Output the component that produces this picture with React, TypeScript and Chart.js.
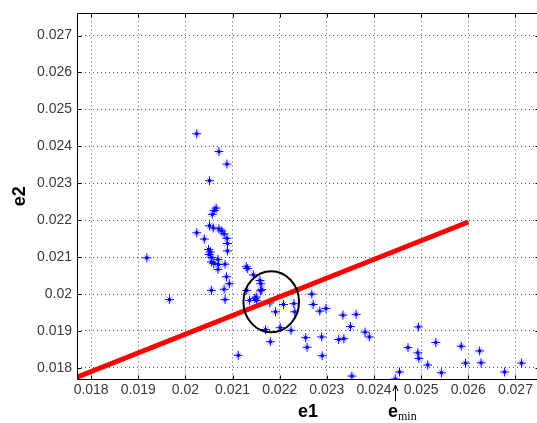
import React, { useEffect, useRef } from "react";
import { Chart, registerables } from "chart.js";

Chart.register(...registerables);

// ---- data ----
const E1_VALUES = [
  0.02024, 0.02071, 0.02088, 0.02051, 0.02065, 0.02061, 0.02057, 0.02051, 0.02059, 0.02071,
  0.02077, 0.02082, 0.02088, 0.02089, 0.02089, 0.02024, 0.0204, 0.02049, 0.02053, 0.0205,
  0.02056, 0.02055, 0.02069, 0.0207, 0.02069, 0.0206, 0.02084, 0.02087, 0.01918, 0.01966,
  0.02055, 0.02082, 0.02084, 0.02093, 0.02112, 0.02129, 0.02132, 0.0213, 0.02136, 0.02144,
  0.02151, 0.02158, 0.02162, 0.0215, 0.0216, 0.02159, 0.02147, 0.02179, 0.02191, 0.02208,
  0.0223, 0.02232, 0.0217, 0.02201, 0.02224, 0.0218, 0.02268, 0.02271, 0.02285, 0.02298,
  0.02334, 0.02362, 0.0235, 0.02381, 0.0239, 0.02255, 0.02258, 0.02289, 0.0229, 0.02325,
  0.02336, 0.02353, 0.02445, 0.02454, 0.02472, 0.02494, 0.02493, 0.02495, 0.02514, 0.02531,
  0.02543, 0.02585, 0.02594, 0.02624, 0.02627, 0.02677, 0.02713,
];
const E2_VALUES = [
  0.02434, 0.02386, 0.02352, 0.02307, 0.02233, 0.02226, 0.02216, 0.02185, 0.02179, 0.02177,
  0.02171, 0.02163, 0.02151, 0.02137, 0.02117, 0.02166, 0.02149, 0.02121, 0.02114, 0.02107,
  0.02099, 0.02087, 0.02094, 0.0208, 0.02067, 0.02083, 0.02081, 0.02047, 0.02098, 0.01985,
  0.0201, 0.02013, 0.01985, 0.02028, 0.01834, 0.02074, 0.02069, 0.0201, 0.01983, 0.02052,
  0.01983, 0.02037, 0.02012, 0.01992, 0.02028, 0.02009, 0.01988, 0.01976, 0.01952, 0.01972,
  0.01974, 0.01952, 0.01904, 0.01909, 0.01902, 0.01871, 0.02, 0.01972, 0.01954, 0.01961,
  0.01943, 0.01945, 0.01912, 0.01897, 0.01884, 0.01882, 0.01856, 0.01884, 0.01833, 0.01877,
  0.01879, 0.01778, 0.0177, 0.01789, 0.01855, 0.01911, 0.01841, 0.01826, 0.01808, 0.01869,
  0.01787, 0.01859, 0.01813, 0.01846, 0.01814, 0.01789, 0.01813,
];
const LINE_E1 = [0.0177, 0.026];
const LINE_E2 = [0.01775, 0.02195];
const OPT_E1 = [0.02183];
const OPT_E2 = [0.01974];
const ELLIPSE_CENTER = [0.02182, 0.01979];
const ELLIPSE_RADII = [0.00059, 0.000825];
const EMIN_E1 = 0.02445;
const X_TICKS = [0.018, 0.019, 0.02, 0.021, 0.022, 0.023, 0.024, 0.025, 0.026, 0.027];
const Y_TICKS = [0.018, 0.019, 0.02, 0.021, 0.022, 0.023, 0.024, 0.025, 0.026, 0.027];
const X_RANGE = [0.0177, 0.0275];
const Y_RANGE = [0.0177, 0.0276];
const X_TITLE = "e1";
const Y_TITLE = "e2";
const EMIN_MAIN = "e";
const EMIN_SUB = "min";

const FONT = "'Liberation Sans', Arial, sans-serif";
const SERIF = "'Liberation Serif', 'Times New Roman', serif";
const TICK_COLOR = "#3a3a3a";
const GRID_COLOR = "#555555";

const fmt = (v: any) => String(Number(Number(v).toFixed(4)));

// MATLAB-like '*' marker: strong + arms, softer diagonal arms
function makeAsterisk(): HTMLCanvasElement {
  const c = document.createElement("canvas");
  c.width = 11;
  c.height = 11;
  const g = c.getContext("2d")!;
  g.lineWidth = 1;
  g.strokeStyle = "rgba(0,0,255,0.45)";
  g.beginPath();
  g.moveTo(2.5, 2.5);
  g.lineTo(8.5, 8.5);
  g.moveTo(8.5, 2.5);
  g.lineTo(2.5, 8.5);
  g.stroke();
  g.strokeStyle = "#0000ff";
  g.beginPath();
  g.moveTo(5.5, 1);
  g.lineTo(5.5, 10);
  g.moveTo(1, 5.5);
  g.lineTo(10, 5.5);
  g.stroke();
  g.fillStyle = "#0000ff";
  g.fillRect(4, 4, 3, 3);
  return c;
}

const decor = {
  id: "decor",
  afterDatasetsDraw(chart: any) {
    const { ctx, scales } = chart;
    const x = scales.x;
    const y = scales.y;
    const cx = x.getPixelForValue(ELLIPSE_CENTER[0]);
    const cy = y.getPixelForValue(ELLIPSE_CENTER[1]);
    const rx = Math.abs(x.getPixelForValue(ELLIPSE_CENTER[0] + ELLIPSE_RADII[0]) - cx);
    const ry = Math.abs(y.getPixelForValue(ELLIPSE_CENTER[1] + ELLIPSE_RADII[1]) - cy);
    ctx.save();
    ctx.beginPath();
    ctx.ellipse(cx, cy, rx, ry, 0, 0, Math.PI * 2);
    ctx.strokeStyle = "#000";
    ctx.lineWidth = 2;
    ctx.stroke();
    ctx.restore();
  },
  afterDraw(chart: any) {
    const { ctx, chartArea: a, scales } = chart;
    const x = scales.x;
    const y = scales.y;
    ctx.save();
    ctx.strokeStyle = "#000";
    ctx.lineWidth = 1;
    const L = Math.round(a.left) + 0.5;
    const R = Math.round(a.right) + 0.5;
    const T = Math.round(a.top) + 0.5;
    const B = Math.round(a.bottom) + 0.5;
    ctx.beginPath();
    ctx.moveTo(L, B);
    ctx.lineTo(L, T);
    ctx.lineTo(R, T);
    ctx.lineTo(R, B);
    ctx.lineTo(L, B);
    ctx.stroke();
    // inward tick marks
    ctx.beginPath();
    X_TICKS.forEach((v) => {
      const p = Math.round(x.getPixelForValue(v)) + 0.5;
      ctx.moveTo(p, B);
      ctx.lineTo(p, B - 4);
      ctx.moveTo(p, T);
      ctx.lineTo(p, T + 4);
    });
    Y_TICKS.forEach((v) => {
      const p = Math.round(y.getPixelForValue(v)) + 0.5;
      ctx.moveTo(L, p);
      ctx.lineTo(L + 4, p);
      ctx.moveTo(R, p);
      ctx.lineTo(R - 4, p);
    });
    ctx.stroke();
    // e_min annotation
    const ex = Math.round(x.getPixelForValue(EMIN_E1)) + 0.5;
    const tipY = a.bottom + 6;
    ctx.beginPath();
    ctx.moveTo(ex, tipY);
    ctx.lineTo(ex, a.bottom + 22);
    ctx.moveTo(ex - 2.5, tipY + 6);
    ctx.lineTo(ex, tipY);
    ctx.lineTo(ex + 2.5, tipY + 6);
    ctx.stroke();
    ctx.fillStyle = "#000";
    ctx.textBaseline = "alphabetic";
    ctx.textAlign = "left";
    ctx.font = `bold 18px ${FONT}`;
    ctx.fillText(EMIN_MAIN, ex - 7.5, a.bottom + 38);
    const w = ctx.measureText(EMIN_MAIN).width;
    ctx.font = `12px ${SERIF}`;
    ctx.fillText(EMIN_SUB, ex - 7.5 + w, a.bottom + 41);
    ctx.restore();
  },
};

export default function App() {
  const ref = useRef<HTMLCanvasElement | null>(null);
  useEffect(() => {
    if (!ref.current) return;
    const points = E1_VALUES.map((v, i) => ({ x: v, y: E2_VALUES[i] }));
    const line = LINE_E1.map((v, i) => ({ x: v, y: LINE_E2[i] }));
    const opt = OPT_E1.map((v, i) => ({ x: v, y: OPT_E2[i] }));
    const marker = makeAsterisk();
    const chart = new Chart(ref.current, {
      type: "scatter",
      data: {
        datasets: [
          {
            data: line,
            showLine: true,
            borderColor: "#ff0000",
            borderWidth: 5,
            pointRadius: 0,
            order: 0,
          } as any,
          {
            data: opt,
            pointStyle: "cross",
            pointRadius: 2,
            borderColor: "#33cc33",
            borderWidth: 1,
            order: 1,
          },
          {
            data: points,
            pointStyle: marker,
            pointRadius: 5,
            borderColor: "#0000ff",
            backgroundColor: "#0000ff",
            borderWidth: 1,
            order: 2,
          },
        ],
      },
      options: {
        animation: false,
        responsive: false,
        devicePixelRatio: 1,
        events: [],
        layout: { padding: { top: 10, right: 6, left: 0, bottom: 0 } },
        plugins: { legend: { display: false }, tooltip: { enabled: false } },
        scales: {
          x: {
            type: "linear",
            min: X_RANGE[0],
            max: X_RANGE[1],
            afterBuildTicks: (s: any) => {
              s.ticks = X_TICKS.map((v) => ({ value: v }));
            },
            afterFit: (s: any) => {
              s.height = 44;
            },
            ticks: {
              callback: fmt,
              padding: 3,
              color: TICK_COLOR,
              font: { family: FONT, size: 14 },
              maxRotation: 0,
              autoSkip: false,
            },
            grid: { color: GRID_COLOR, lineWidth: 1, drawTicks: false },
            border: { display: false, dash: [1, 3] },
            title: {
              display: true,
              text: X_TITLE,
              color: "#000",
              font: { family: FONT, size: 18, weight: "bold" },
              padding: { top: 0, bottom: 0 },
            },
          },
          y: {
            type: "linear",
            min: Y_RANGE[0],
            max: Y_RANGE[1],
            afterBuildTicks: (s: any) => {
              s.ticks = Y_TICKS.map((v) => ({ value: v }));
            },
            afterFit: (s: any) => {
              s.width = 77;
            },
            ticks: {
              callback: fmt,
              padding: 5,
              color: TICK_COLOR,
              font: { family: FONT, size: 14 },
              autoSkip: false,
            },
            grid: { color: GRID_COLOR, lineWidth: 1, drawTicks: false },
            border: { display: false, dash: [1, 3] },
            title: {
              display: true,
              text: Y_TITLE,
              color: "#000",
              font: { family: FONT, size: 18, weight: "bold" },
              padding: { top: 9, bottom: 0 },
            },
          },
        },
      } as any,
      plugins: [decor],
    });
    return () => chart.destroy();
  }, []);
  return (
    <div
      style={{
        position: "fixed",
        left: 0,
        top: 0,
        width: 537,
        height: 423,
        overflow: "hidden",
        background: "#fff",
      }}
    >
      <canvas ref={ref} width={545} height={423} style={{ display: "block", width: 545, height: 423 }} />
    </div>
  );
}
